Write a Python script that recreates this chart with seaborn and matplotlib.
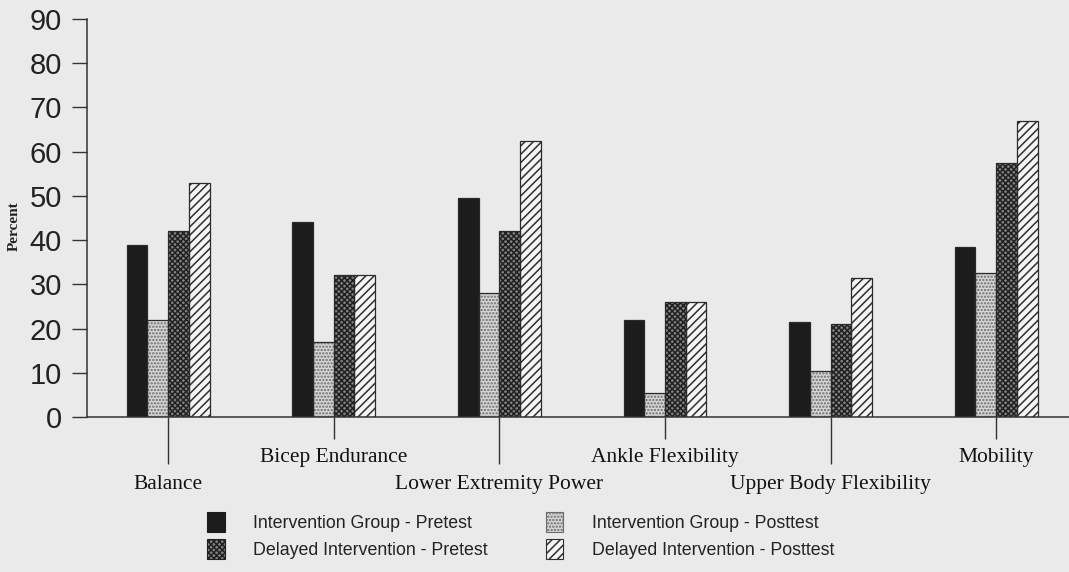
import numpy as np
import pandas as pd
import matplotlib
matplotlib.use("Agg")
import matplotlib.pyplot as plt
from matplotlib.patches import Patch, Rectangle
import seaborn as sns

# Fitness outcome categories and the percentage for each study group
categories = ["Balance", "Bicep Endurance", "Lower Extremity Power",
              "Ankle Flexibility", "Upper Body Flexibility", "Mobility"]
groups = ["Intervention Group - Pretest", "Intervention Group - Posttest",
          "Delayed Intervention - Pretest", "Delayed Intervention - Posttest"]
ig_pretest = [39, 44, 49.5, 22, 21.5, 38.5]
ig_posttest = [22, 17, 28, 5.5, 10.5, 32.5]
di_pretest = [42, 32, 42, 26, 21, 57.5]
di_posttest = [53, 32, 62.5, 26, 31.5, 67]
y_ticks = [0, 10, 20, 30, 40, 50, 60, 70, 80, 90]

df = pd.DataFrame({
    "category": np.repeat(categories, len(groups)),
    "group": groups * len(categories),
    "percent": np.ravel(np.column_stack([ig_pretest, ig_posttest, di_pretest, di_posttest])),
})

# Fill, hatch and hatch colour per group (grayscale print style)
styles = {
    groups[0]: dict(face="#1c1c1c", hatch="", hcolor="#1c1c1c"),
    groups[1]: dict(face="#d6d6d6", hatch=".....", hcolor="#6a6a6a"),
    groups[2]: dict(face="#828282", hatch="xxxxxx", hcolor="#202020"),
    groups[3]: dict(face="#f4f4f4", hatch="////", hcolor="#2e2e2e"),
}

bg = "#eaeaea"
sns.set_theme(style="white")
plt.rcParams["hatch.linewidth"] = 1.1

fig = plt.figure(figsize=(10.69, 5.72), dpi=100, facecolor=bg)
ax = fig.add_axes([0.0814, 0.271, 0.9186, 0.6958], facecolor=bg)

sns.barplot(data=df, x="category", y="percent", hue="group", order=categories,
            hue_order=groups, palette=[styles[g]["face"] for g in groups],
            saturation=1, width=0.5, gap=0, legend=False, ax=ax, errorbar=None)

# Apply hatching, then draw a crisp outline over each bar
n = len(categories)
for i, bar in enumerate(ax.patches[: n * len(groups)]):
    st = styles[groups[i // n]]
    bar.set_hatch(st["hatch"])
    bar.set_edgecolor(st["hcolor"])
    bar.set_linewidth(0)
    ax.add_patch(Rectangle(bar.get_xy(), bar.get_width(), bar.get_height(),
                           fill=False, edgecolor="#2a2a2a", linewidth=0.9, zorder=bar.get_zorder() + 0.1))

ax.set_ylim(0, 90)
ax.set_xlim(-0.49, 5.44)
ax.set_yticks(y_ticks)
ax.set_yticklabels([str(t) for t in y_ticks], family="Liberation Sans", fontsize=21, color="#222222")

# Alternate long and short category ticks so the labels stagger
major_pos = [0, 2, 4]
minor_pos = [1, 3, 5]
ax.set_xticks(major_pos)
ax.set_xticklabels([categories[i] for i in major_pos], family="Liberation Serif", fontsize=15.5, color="#111111")
ax.set_xticks(minor_pos, minor=True)
ax.set_xticklabels([categories[i] for i in minor_pos], minor=True, family="Liberation Serif", fontsize=15.5, color="#111111")
ax.tick_params(axis="x", which="major", direction="out", length=34, width=1, color="#333333", pad=8, bottom=True)
ax.tick_params(axis="x", which="minor", direction="out", length=16, width=1, color="#333333", pad=6, bottom=True)
ax.tick_params(axis="y", direction="out", length=11, width=1, color="#333333", pad=7, left=True)

ax.set_xlabel("")
ax.set_ylabel("Percent", family="Liberation Serif", fontsize=11, fontweight="bold", color="#222222")
ax.yaxis.set_label_coords(-0.067, 0.48)

for side in ["top", "right"]:
    ax.spines[side].set_visible(False)
for side in ["left", "bottom"]:
    ax.spines[side].set_color("#333333")
    ax.spines[side].set_linewidth(1.1)

handles = []
for g in [groups[0], groups[2], groups[1], groups[3]]:
    st = styles[g]
    handles.append(Patch(facecolor=st["face"], hatch=st["hatch"], edgecolor=st["hcolor"], linewidth=0.8, label=g))
fig.legend(handles=handles, loc="upper left", bbox_to_anchor=(0.1936, 0.105), ncol=2,
           frameon=False, prop={"family": "Liberation Sans", "size": 12.8},
           handlelength=1.0, handleheight=1.35, handletextpad=1.6, labelspacing=0.42,
           columnspacing=3.25, borderpad=0, borderaxespad=0, labelcolor="#222222")

fig.savefig("out.png", dpi=100, facecolor=bg)
